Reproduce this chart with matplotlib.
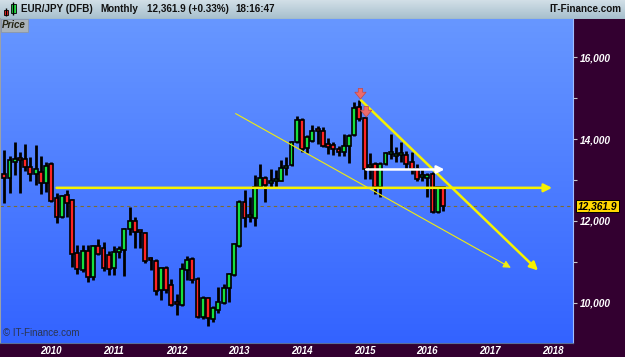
import numpy as np
import matplotlib.pyplot as plt
from matplotlib.colors import LinearSegmentedColormap
from matplotlib.transforms import blended_transform_factory

plt.rcParams['font.family'] = ['Liberation Sans', 'DejaVu Sans']

# EUR/JPY monthly candles, Apr 2009 .. Apr 2016 (price x100)
opens = [13135, 13037, 13429, 13478, 13503, 13307, 13135, 13184, 12938, 13380,
         12570, 12104, 12644, 12521, 11220, 10802, 11269, 10631, 11392, 11343,
         11170, 10852, 11244, 11293, 11809, 12005, 11735, 11711, 11048, 11023,
         10311, 10852, 10434, 9968, 9943, 10802, 11073, 10582, 9649, 10115,
         9600, 9820, 9992, 10361, 10680, 11392, 12472, 12104, 12079, 12840,
         13037, 12914, 12963, 12987, 13282, 13356, 13920, 14460, 13773, 13945,
         14190, 14190, 13871, 13847, 13748, 13675, 13822, 14092, 14780, 14510,
         13307, 13380, 12840, 13380, 13626, 13577, 13601, 13601, 13429, 13257,
         13061, 13037, 13135, 12226, 12816]
highs = [13724, 13577, 13920, 13675, 13871, 13552, 13847, 13577, 13429, 13429,
         12693, 12644, 12766, 12546, 11416, 11416, 11416, 11416, 11564, 11490,
         11269, 11392, 11392, 11834, 12349, 12104, 11760, 11735, 11122, 11073,
         10876, 10901, 10582, 10213, 10974, 11146, 11122, 10631, 10164, 10140,
         9919, 10385, 10459, 10729, 11465, 12521, 12766, 12595, 13110, 13380,
         13086, 13257, 13233, 13478, 13552, 13945, 14559, 14510, 14092, 14338,
         14313, 14289, 14019, 13920, 13822, 14117, 14117, 14902, 14951, 14534,
         13650, 13429, 13429, 13675, 14117, 13798, 13920, 13699, 13675, 13380,
         13257, 13159, 13184, 12840, 12840]
lows = [12447, 12693, 13110, 12693, 13208, 12963, 12889, 12668, 12717, 12472,
        11956, 12080, 12104, 10876, 10704, 10753, 10508, 10557, 11171, 10778,
        10680, 10680, 11097, 10655, 11662, 11343, 11343, 10974, 10802, 10189,
        10066, 10238, 9919, 9698, 9919, 10557, 10483, 9624, 9600, 9428,
        9526, 9747, 9968, 10017, 10655, 11367, 11858, 11981, 11883, 12816,
        12472, 12840, 12840, 12963, 13110, 13331, 13896, 13675, 13650, 13920,
        13871, 13798, 13626, 13601, 13577, 13577, 13405, 14068, 14436, 13012,
        13012, 12668, 12595, 13356, 13503, 13429, 13429, 13257, 13135, 12963,
        12987, 12595, 12202, 12202, 12251]
closes = [13037, 13478, 13503, 13470, 13307, 13135, 13257, 12938, 13331, 12496,
          12104, 12619, 12447, 11195, 10827, 11269, 10631, 11392, 11195, 10852,
          10830, 11244, 11318, 11809, 12005, 11735, 11711, 11023, 11000, 10287,
          10852, 10311, 9943, 9919, 10827, 11048, 10557, 9649, 10115, 9624,
          9870, 10017, 10361, 10704, 11441, 12472, 12079, 12153, 12816, 13037,
          12889, 12987, 13012, 13282, 13331, 13920, 14460, 13748, 14043, 14190,
          14166, 13822, 13798, 13748, 13675, 13822, 14068, 14755, 14485, 13257,
          13356, 12840, 13380, 13650, 13675, 13626, 13650, 13380, 13257, 13012,
          13086, 13110, 12226, 12816, 12362]
years = [2010, 2011, 2012, 2013, 2014, 2015, 2016, 2017, 2018]
first_month = (2009, 4)
last_price = 12361.9

# trend lines: (index, price) start -> end
support_line = ((10, 12808), (104.9, 12808))
thin_line = ((44.3, 14625), (97.0, 10852))
down_line = ((68.3, 14951), (102.2, 10785))
white_line = ((69.3, 13257), (84.3, 13257))
# red sell signals: (index, top of arrow)
signals = [(68.2, 15240), (69.3, 14800)]

W, H = 625, 357
fig = plt.figure(figsize=(6.25, 3.57), dpi=100)
fig.patch.set_facecolor('#330030')


def rect(x0, y0, x1, y1):
    return [x0 / W, 1 - y1 / H, (x1 - x0) / W, (y1 - y0) / H]


# title bar
tax = fig.add_axes(rect(0, 0, 625, 19))
tcm = LinearSegmentedColormap.from_list('t', ['#d2dfe7', '#a6bfcd'])
tax.imshow(np.linspace(0, 1, 64).reshape(-1, 1), cmap=tcm, aspect='auto',
           extent=[0, 625, 19, 0])
tax.set_xlim(0, 625)
tax.set_ylim(19, 0)
tax.axis('off')
tax.axhline(18.6, color='#6f8796', lw=0.8)
# little candle icon
tax.vlines([6, 13], [8, 2], [16, 15], color='black', lw=1)
tax.add_patch(plt.Rectangle((4, 9.5), 4, 5, facecolor='#ff2a2a', edgecolor='black', lw=0.6))
tax.add_patch(plt.Rectangle((10.5, 3.5), 5, 9, facecolor='#22dd44', edgecolor='black', lw=0.6))
tfont = dict(fontsize=7.1, fontweight='bold', va='center', color='#111111')
tax.text(21, 9.5, 'EUR/JPY (DFB)', **tfont)
tax.text(100, 9.5, 'Monthly', **tfont)
tax.text(147, 9.5, '12,361.9 (+0.33%)', **tfont)
tax.text(235, 9.5, '18:16:47', **tfont)
tax.text(621, 9.5, 'IT-Finance.com', ha='right', **tfont)

# main chart
ax = fig.add_axes(rect(0, 19, 573, 343))
bcm = LinearSegmentedColormap.from_list('b', ['#6797ff', '#3363ff'])
ax.imshow(np.linspace(0, 1, 256).reshape(-1, 1), cmap=bcm, aspect='auto',
          extent=[0, 1, 0, 1], transform=ax.transAxes, zorder=0)

x = np.arange(len(opens))
o = np.array(opens, float)
c = np.array(closes, float)
up = c >= o
colors = np.where(up, '#16e040', '#ff2424')
body = np.where(np.abs(c - o) < 50, 50, c - o)

ax.vlines(x, lows, highs, color='black', lw=2.0, zorder=3)
ax.bar(x, body, bottom=o, width=0.74, color=colors, edgecolor='black',
       linewidth=1.2, zorder=4)

ax.axhline(last_price, color='#7d6d2c', lw=0.8, ls=(0, (3, 3)), zorder=2)


def arrow(line, color, lw, ms):
    (x0, y0), (x1, y1) = line
    ax.annotate('', xy=(x1, y1), xytext=(x0, y0), zorder=5,
                arrowprops=dict(arrowstyle='-|>', color=color, lw=lw,
                                mutation_scale=ms, shrinkA=0, shrinkB=0))


arrow(support_line, '#f6f200', 1.8, 12)
arrow(thin_line, '#f0ec10', 0.8, 11)
arrow(down_line, '#f6f200', 1.8, 12)
arrow(white_line, 'white', 1.8, 11)

for xi, top in signals:
    ax.annotate('', xy=(xi, top - 260), xytext=(xi, top), zorder=6,
                arrowprops=dict(arrowstyle='simple,head_width=0.9,head_length=0.55,tail_width=0.35',
                                facecolor='#ec6a6a', edgecolor='#c04848', lw=0.5,
                                shrinkA=0, shrinkB=0, mutation_scale=9))

ax.set_xlim(-0.82, 108.9)
ax.set_ylim(9010, 16940)

jan = [(y - first_month[0]) * 12 - (first_month[1] - 1) for y in years]
ax.set_xticks(jan)
ax.set_xticklabels([str(y) for y in years])
ax.tick_params(axis='x', length=0, pad=2.5, labelsize=7, labelcolor='white')
for t in ax.get_xticklabels():
    t.set_fontweight('bold')
    t.set_fontstyle('italic')

ax.yaxis.tick_right()
ax.set_yticks([10000, 12000, 14000, 16000])
ax.set_yticks([11000, 13000, 15000], minor=True)
ax.set_yticklabels(['10,000', '12,000', '14,000', '16,000'])
ax.tick_params(axis='y', which='both', length=3, width=0.8, color='#c8c8c8',
               pad=2, labelsize=7.3, labelcolor='white')
for t in ax.get_yticklabels():
    t.set_fontweight('bold')
    t.set_fontstyle('italic')

ax.spines['top'].set_visible(False)
ax.spines['left'].set_color('#9aa0a8')
ax.spines['left'].set_linewidth(1.5)
ax.spines['right'].set_color('#9fbfff')
ax.spines['right'].set_linewidth(0.8)
ax.spines['bottom'].set_color('#5a6f99')
ax.spines['bottom'].set_linewidth(0.8)

blend = blended_transform_factory(ax.transAxes, ax.transData)
ax.text(1.008, last_price, '12,361.9', transform=blend, fontsize=7.3,
        fontweight='bold', fontstyle='italic', va='center', ha='left',
        color='black', clip_on=False, zorder=10,
        bbox=dict(facecolor='#ffd800', edgecolor='black', lw=0.7, pad=1.0))

ax.text(0.004, 0.996, 'Price', transform=ax.transAxes, fontsize=7,
        fontweight='bold', fontstyle='italic', va='top', ha='left',
        color='#222211', zorder=10,
        bbox=dict(facecolor='#aab3ba', edgecolor='#8c959c', lw=0.5, pad=1.2))
ax.text(0.005, 0.015, '\u00a9 IT-Finance.com', transform=ax.transAxes,
        fontsize=7, color='#2c3550', va='bottom', ha='left', zorder=10)

fig.savefig('out.png', dpi=100, facecolor=fig.get_facecolor())
